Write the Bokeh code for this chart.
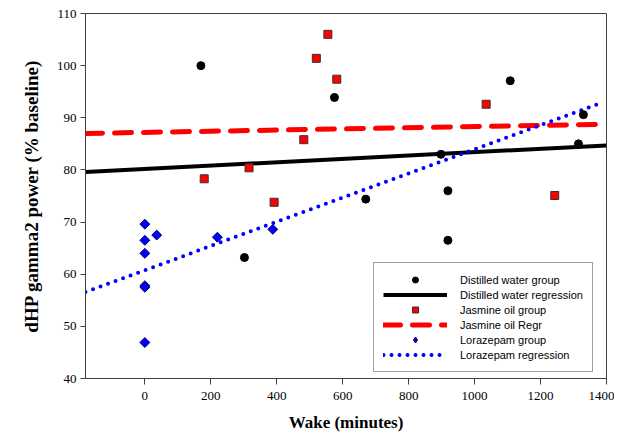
import math
from bokeh.plotting import figure
from bokeh.models import Range1d, Legend, LegendItem, FixedTicker
from bokeh.embed import file_html
from bokeh.resources import INLINE

# ---- data ----
dw_x = [170, 302, 575, 670, 898, 919, 919, 1108, 1315, 1330]
dw_y = [100.0, 63.2, 93.9, 74.4, 83.0, 76.0, 66.5, 97.1, 85.0, 90.6]

jo_x = [180, 316, 392, 482, 520, 555, 582, 1035, 1243]
jo_y = [78.3, 80.4, 73.8, 85.8, 101.4, 106.0, 97.4, 92.6, 75.1]

lz_x = [0, 0, 0, 0, 0, 0, 36, 220, 388]
lz_y = [69.6, 66.5, 64.0, 57.8, 57.5, 46.9, 67.5, 67.1, 68.6]

dw_reg_x = [-180, 1400]
dw_reg_y = [79.6, 84.7]
jo_reg_x = [-180, 1400]
jo_reg_y = [87.0, 88.75]
lz_reg_x = [-180, 1383]
lz_reg_y = [56.6, 92.85]

x_ticks = [0, 200, 400, 600, 800, 1000, 1200, 1400]
y_ticks = [40, 50, 60, 70, 80, 90, 100, 110]

labels = ["Distilled water group", "Distilled water regression",
          "Jasmine oil group", "Jasmine oil Regr",
          "Lorazepam group", "Lorazepam regression"]

p = figure(width=614, height=435, output_backend="svg", toolbar_location=None,
           x_range=Range1d(-180, 1400), y_range=Range1d(40, 110),
           min_border_left=85, min_border_right=8, min_border_top=13, min_border_bottom=57)

p.xgrid.visible = False
p.ygrid.visible = False
p.outline_line_color = "#404040"
p.outline_line_width = 1

for ax in (p.xaxis[0], p.yaxis[0]):
    ax.axis_line_color = "#404040"
    ax.major_tick_line_color = "#404040"
    ax.major_tick_in = 0
    ax.major_tick_out = 5
    ax.minor_tick_line_color = None
    ax.major_label_text_font = "Liberation Serif"
    ax.major_label_text_font_size = "13px"
    ax.major_label_text_color = "black"
    ax.axis_label_text_font = "Liberation Serif"
    ax.axis_label_text_font_style = "bold"
    ax.axis_label_text_color = "black"

p.xaxis.ticker = FixedTicker(ticks=x_ticks)
p.yaxis.ticker = FixedTicker(ticks=y_ticks)
p.xaxis.axis_label = "Wake (minutes)"
p.yaxis.axis_label = "dHP gamma2 power (% baseline)"
p.xaxis.axis_label_text_font_size = "17px"
p.yaxis.axis_label_text_font_size = "19px"
p.xaxis.major_tick_out = 6
p.xaxis.major_label_standoff = 7
p.xaxis.axis_label_standoff = 10
p.yaxis.major_label_standoff = 4
p.yaxis.axis_label_standoff = 12

r_dw_reg = p.line(dw_reg_x, dw_reg_y, line_color="black", line_width=4)
r_jo_reg = p.line(jo_reg_x, jo_reg_y, line_color="#ff0000", line_width=5,
                  line_dash="17 12", line_cap="round")
r_lz_reg = p.line(lz_reg_x, lz_reg_y, line_color="#0000ff", line_width=4,
                  line_dash="0 8", line_cap="round")

r_dw = p.scatter(dw_x, dw_y, marker="circle", size=8, fill_color="black", line_color="black")
r_jo = p.scatter(jo_x, jo_y, marker="square", size=8, fill_color="#ff0000",
                 line_color="#333333", line_width=1)
r_lz = p.scatter(lz_x, lz_y, marker="square", angle=math.pi / 4, size=7,
                 fill_color="#0000ff", line_color="#000060", line_width=1)
# hidden renderer used only for the legend's diamond key
r_lz_key = p.scatter(lz_x, lz_y, marker="diamond", size=12,
                     fill_color="#0000ff", line_color="#000060", line_width=1, visible=False)

legend = Legend(items=[
    LegendItem(label=labels[0], renderers=[r_dw]),
    LegendItem(label=labels[1], renderers=[r_dw_reg]),
    LegendItem(label=labels[2], renderers=[r_jo]),
    LegendItem(label=labels[3], renderers=[r_jo_reg]),
    LegendItem(label=labels[4], renderers=[r_lz_key]),
    LegendItem(label=labels[5], renderers=[r_lz_reg]),
], location=(288, 6), border_line_color="#404040", border_line_width=1,
    padding=9, spacing=0, margin=0, glyph_width=64, glyph_height=15, label_height=15,
    label_standoff=13, label_text_font="Liberation Sans", label_text_font_size="11px",
    label_text_color="black", background_fill_color="white", background_fill_alpha=1,
    inactive_fill_alpha=0, click_policy="none")
p.add_layout(legend)

open("out.html", "w").write(file_html(p, INLINE))
